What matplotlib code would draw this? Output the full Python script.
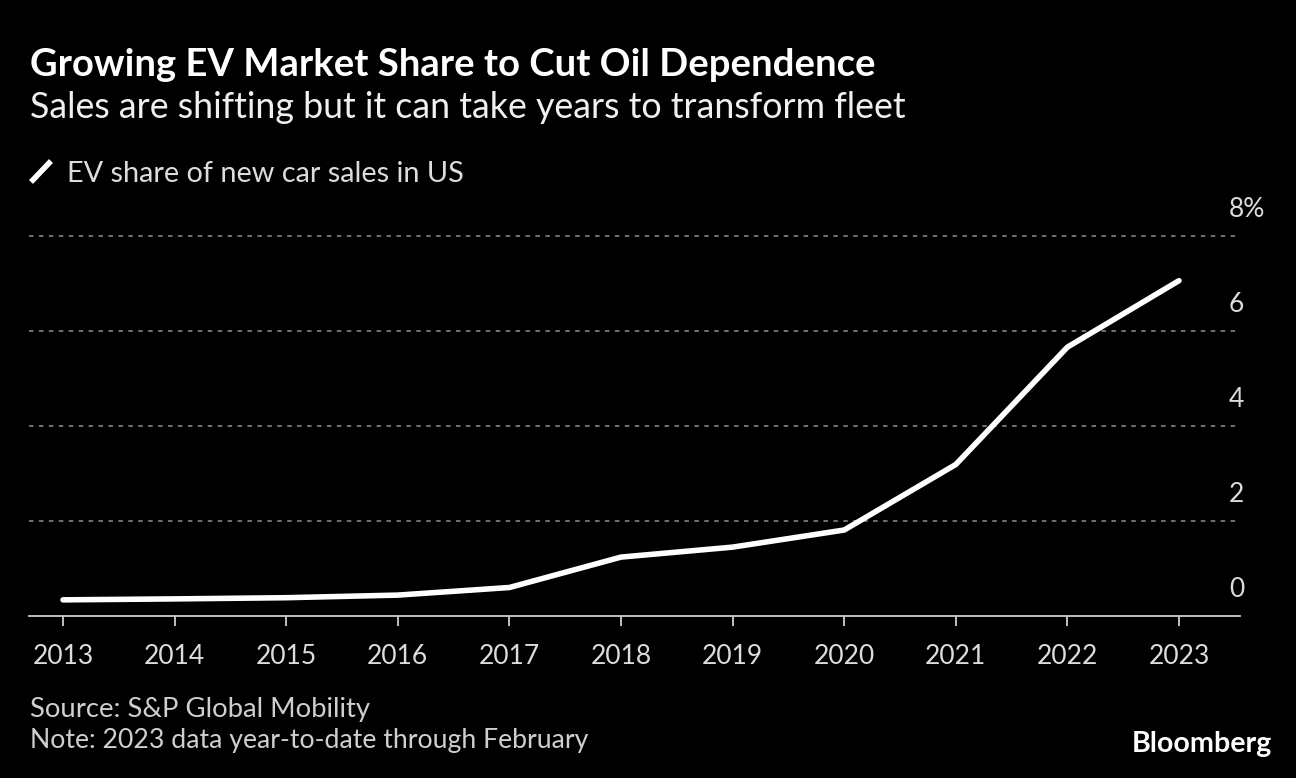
import matplotlib
matplotlib.use("Agg")
import matplotlib.pyplot as plt
from matplotlib.lines import Line2D

years = [2013, 2014, 2015, 2016, 2017, 2018, 2019, 2020, 2021, 2022, 2023]
ev_share = [0.34, 0.36, 0.385, 0.44, 0.60, 1.24, 1.45, 1.81, 3.19, 5.66, 7.06]
y_ticks = [0, 2, 4, 6, 8]
y_tick_labels = ["0", "2", "4", "6", "8%"]

title = "Growing EV Market Share to Cut Oil Dependence"
subtitle = "Sales are shifting but it can take years to transform fleet"
legend_label = "EV share of new car sales in US"
source = "Source: S&P Global Mobility"
note = "Note: 2023 data year-to-date through February"

FONT = "Lato"
W, H = 1296, 778
fig = plt.figure(figsize=(W / 100, H / 100), dpi=100, facecolor="black")
plt.rcParams["font.family"] = [FONT, "DejaVu Sans"]

renderer = fig.canvas.get_renderer()


def fig_text(xpx, ypx_baseline, s, target_w, size, **kw):
    t = fig.text(xpx / W, 1 - ypx_baseline / H, s, fontsize=size, va="baseline", ha="left", **kw)
    bb = t.get_window_extent(renderer=renderer)
    if target_w:
        t.set_fontsize(size * target_w / bb.width)
    return t


# axes placement (pixels)
ax_left, ax_right = 29, 1240
y0_px, y8_px = 616, 236
ymax = 8.25
px_per_unit = (y0_px - y8_px) / 8
top_px = y0_px - ymax * px_per_unit
ax = fig.add_axes([ax_left / W, 1 - y0_px / H, (ax_right - ax_left) / W, (y0_px - top_px) / H])
ax.set_facecolor("black")

x_per_year = (1179 - 63) / 10
ax.set_xlim(2013 - (63 - ax_left) / x_per_year, 2023 + (ax_right - 1179) / x_per_year)
ax.set_ylim(0, ymax)

for v in y_ticks[1:]:
    ax.axhline(v, color="#7a7a7a", lw=1.3, ls=(0, (2.5, 3)), zorder=1)

ax.plot(years, ev_share, color="white", lw=4.0, solid_capstyle="round",
        solid_joinstyle="round", zorder=3, clip_on=False)

for sp in ["top", "right", "left"]:
    ax.spines[sp].set_visible(False)
ax.spines["bottom"].set_color("#cfcfcf")
ax.spines["bottom"].set_linewidth(1.3)

ax.set_xticks(years)
ax.set_xticklabels([str(y) for y in years])
ax.tick_params(axis="x", colors="#cfcfcf", length=7.5, width=1.3, pad=13,
               labelsize=19, labelcolor="#dcdcdc")
ax.set_yticks([])

for v, lab in zip(y_ticks, y_tick_labels):
    ax.annotate(lab, xy=(1, v), xycoords=ax.get_yaxis_transform(),
                xytext=(-11, 19), textcoords="offset pixels",
                ha="left", va="baseline", fontsize=19, color="#dcdcdc")

fig_text(30, 76, title, 845, 26, color="white", fontweight="bold")
fig_text(30, 118, subtitle, 877, 24, color="#f0f0f0")

# legend icon
fig.add_artist(Line2D([31 / W, 51 / W], [1 - 182 / H, 1 - 161 / H], color="white", lw=4.0,
                      solid_capstyle="butt", transform=fig.transFigure))
fig_text(67, 182, legend_label, 398, 20, color="#dcdcdc")

fig_text(30, 717, source, 340, 18, color="#cfcfcf")
fig_text(30, 748, note, 557, 18, color="#cfcfcf")
fig_text(1132, 752, "Bloomberg", 140, 17, color="white", fontweight="bold")

fig.savefig("out.png", dpi=100, facecolor="black")
